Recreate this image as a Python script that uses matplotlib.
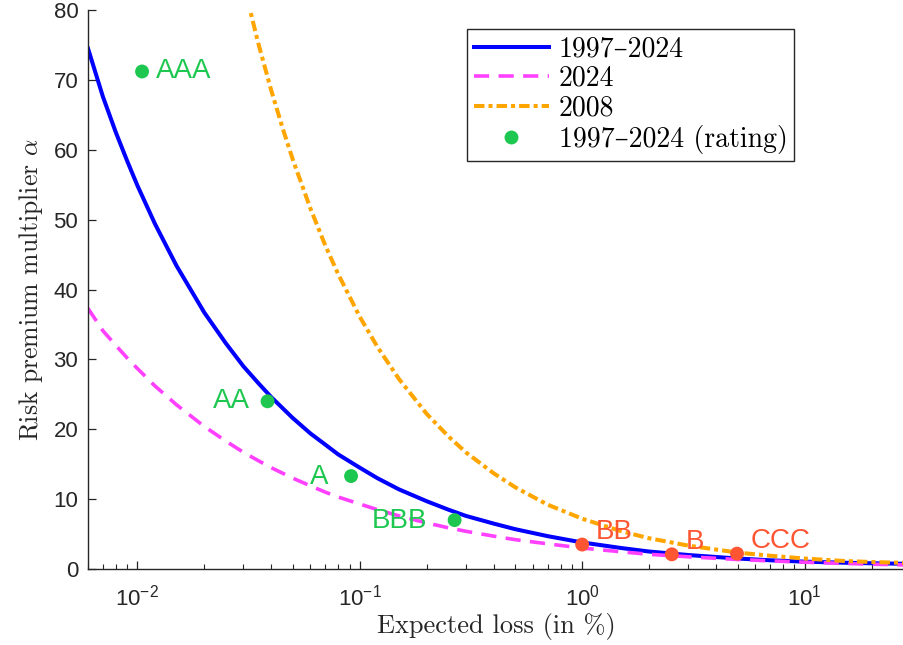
import matplotlib
matplotlib.use("Agg")
import matplotlib.pyplot as plt
from matplotlib.ticker import FixedLocator, FixedFormatter, LogLocator, NullFormatter

plt.rcParams['mathtext.fontset'] = 'cm'
plt.rcParams['mathtext.rm'] = 'Liberation Sans'
plt.rcParams['mathtext.it'] = 'Liberation Sans:italic'

# expected loss grid (in %) for the fitted curves
loss = [0.006, 0.007, 0.008, 0.009, 0.01, 0.012, 0.015, 0.02, 0.025, 0.03, 0.035,
        0.04, 0.05, 0.06, 0.07, 0.08, 0.1, 0.12, 0.15, 0.2, 0.25, 0.3, 0.4, 0.5,
        0.7, 1, 1.5, 2, 3, 5, 7, 10, 15, 20, 28]
alpha_9724 = [74.5, 67.6, 62.5, 58.4, 54.9, 49.4, 43.4, 36.7, 32.3, 29.0, 26.6,
              24.6, 21.6, 19.4, 17.8, 16.4, 14.5, 13.0, 11.4, 9.7, 8.5, 7.6, 6.5, 5.7,
              4.7, 3.8, 3.0, 2.5, 2.0, 1.5, 1.25, 1.05, 0.9, 0.82, 0.75]
alpha_2024 = [37.3, 34.1, 32.0, 30.2, 28.7, 26.2, 23.5, 20.4, 18.3, 16.7, 15.5,
              14.5, 13.0, 11.9, 11.0, 10.3, 9.3, 8.5, 7.6, 6.6, 5.9, 5.4, 4.7, 4.2,
              3.6, 3.0, 2.46, 2.1, 1.75, 1.36, 1.16, 0.97, 0.8, 0.69, 0.59]

loss_2008 = [0.03, 0.035, 0.04, 0.045, 0.05, 0.06, 0.07, 0.08, 0.1, 0.12, 0.15, 0.2,
             0.25, 0.3, 0.4, 0.5, 0.7, 1, 1.5, 2, 3, 5, 7, 10, 15, 20, 28]
alpha_2008 = [83.8, 75.2, 68.5, 63.1, 58.6, 51.6, 46.3, 42.2, 36.1, 31.8, 27.2, 22.2,
              19.0, 16.7, 13.7, 11.7, 9.2, 7.2, 5.4, 4.4, 3.35, 2.35, 1.9, 1.5, 1.15,
              1.0, 0.88]

# rating classes, 1997-2024 averages
ratings = ["AAA", "AA", "A", "BBB", "BB", "B", "CCC"]
rating_loss = [0.0105, 0.0385, 0.0914, 0.267, 1.0, 2.53, 4.97]
rating_alpha = [71.2, 24.0, 13.3, 7.0, 3.5, 2.1, 2.2]
investment_grade = ["AAA", "AA", "A", "BBB"]

xtick_vals = [1e-2, 1e-1, 1e0, 1e1]
xtick_text = [r"$\mathrm{10^{-2}}$", r"$\mathrm{10^{-1}}$", r"$\mathrm{10^{0}}$", r"$\mathrm{10^{1}}$"]
ytick_vals = [0, 10, 20, 30, 40, 50, 60, 70, 80]

GREEN = "#1ec850"
RED = "#ff5533"
INK = "#262626"

# label offsets (points) and alignment per rating
label_pos = {
    "AAA": (10, 0, "left"),
    "AA": (-13, 0, "right"),
    "A": (-16, -1, "right"),
    "BBB": (-20, -1, "right"),
    "BB": (10, 9, "left"),
    "B": (10, 9, "left"),
    "CCC": (10, 9, "left"),
}

fig = plt.figure(figsize=(9.04, 6.45), dpi=100)
ax = fig.add_axes([88 / 904, 76 / 645, 816 / 904, 559 / 645])

ax.plot(loss, alpha_9724, color="#0000ff", lw=2.9, label="1997–2024")
ax.plot(loss, alpha_2024, color="#ff40ff", lw=2.6, dashes=(4.2, 2.6), label="2024")
ax.plot(loss_2008, alpha_2008, color="#ffa500", lw=2.9, dashes=(2.6, 1.0, 1.0, 1.0),
        label="2008")

colors = [GREEN if r in investment_grade else RED for r in ratings]
ax.scatter(rating_loss, rating_alpha, s=100, c=colors, zorder=5, linewidths=0)
ax.plot([], [], "o", color=GREEN, ms=10, mec="none", label="1997–2024 (rating)")

for r, x, y, c in zip(ratings, rating_loss, rating_alpha, colors):
    dx, dy, ha = label_pos[r]
    ax.annotate(r, (x, y), xytext=(dx, dy), textcoords="offset points",
                ha=ha, va="center", color=c, fontsize=20, family="Liberation Sans")

ax.set_xscale("log")
ax.set_xlim(0.006, 28)
ax.set_ylim(0, 80)

ax.xaxis.set_major_locator(FixedLocator(xtick_vals))
ax.xaxis.set_major_formatter(FixedFormatter(xtick_text))
ax.xaxis.set_minor_locator(LogLocator(base=10, subs=range(2, 10), numticks=20))
ax.xaxis.set_minor_formatter(NullFormatter())
ax.set_yticks(ytick_vals)

for s in ["top", "right"]:
    ax.spines[s].set_visible(False)
for s in ["left", "bottom"]:
    ax.spines[s].set_color(INK)
    ax.spines[s].set_linewidth(1.0)

ax.tick_params(which="both", direction="in", color=INK, labelcolor=INK)
ax.tick_params(which="major", length=6, width=0.9)
ax.tick_params(which="minor", length=3.5, width=0.8)
ax.tick_params(axis="x", pad=11)
ax.tick_params(axis="y", pad=7)
for lbl in ax.get_xticklabels() + ax.get_yticklabels():
    lbl.set_fontsize(16)
    lbl.set_family("Liberation Sans")
    lbl.set_math_fontfamily("custom")

ax.set_xlabel("Expected loss (in %)", fontsize=19, family=["cmr10", "DejaVu Serif"],
              color=INK, labelpad=2)
ax.set_ylabel(r"Risk premium multiplier $\alpha$", fontsize=18.5,
              family=["cmr10", "DejaVu Serif"], color=INK, labelpad=6)

leg = ax.legend(loc="upper left", bbox_to_anchor=((467 - 88) / 816, (569 - 29) / 559),
                borderaxespad=0, fancybox=False, framealpha=1, edgecolor=INK,
                prop={"family": ["cmr10", "DejaVu Serif"], "size": 20},
                handlelength=2.7, handletextpad=0.35, labelspacing=0.12, borderpad=0.25)
leg.get_frame().set_linewidth(1.0)

fig.savefig("out.png", dpi=100)
